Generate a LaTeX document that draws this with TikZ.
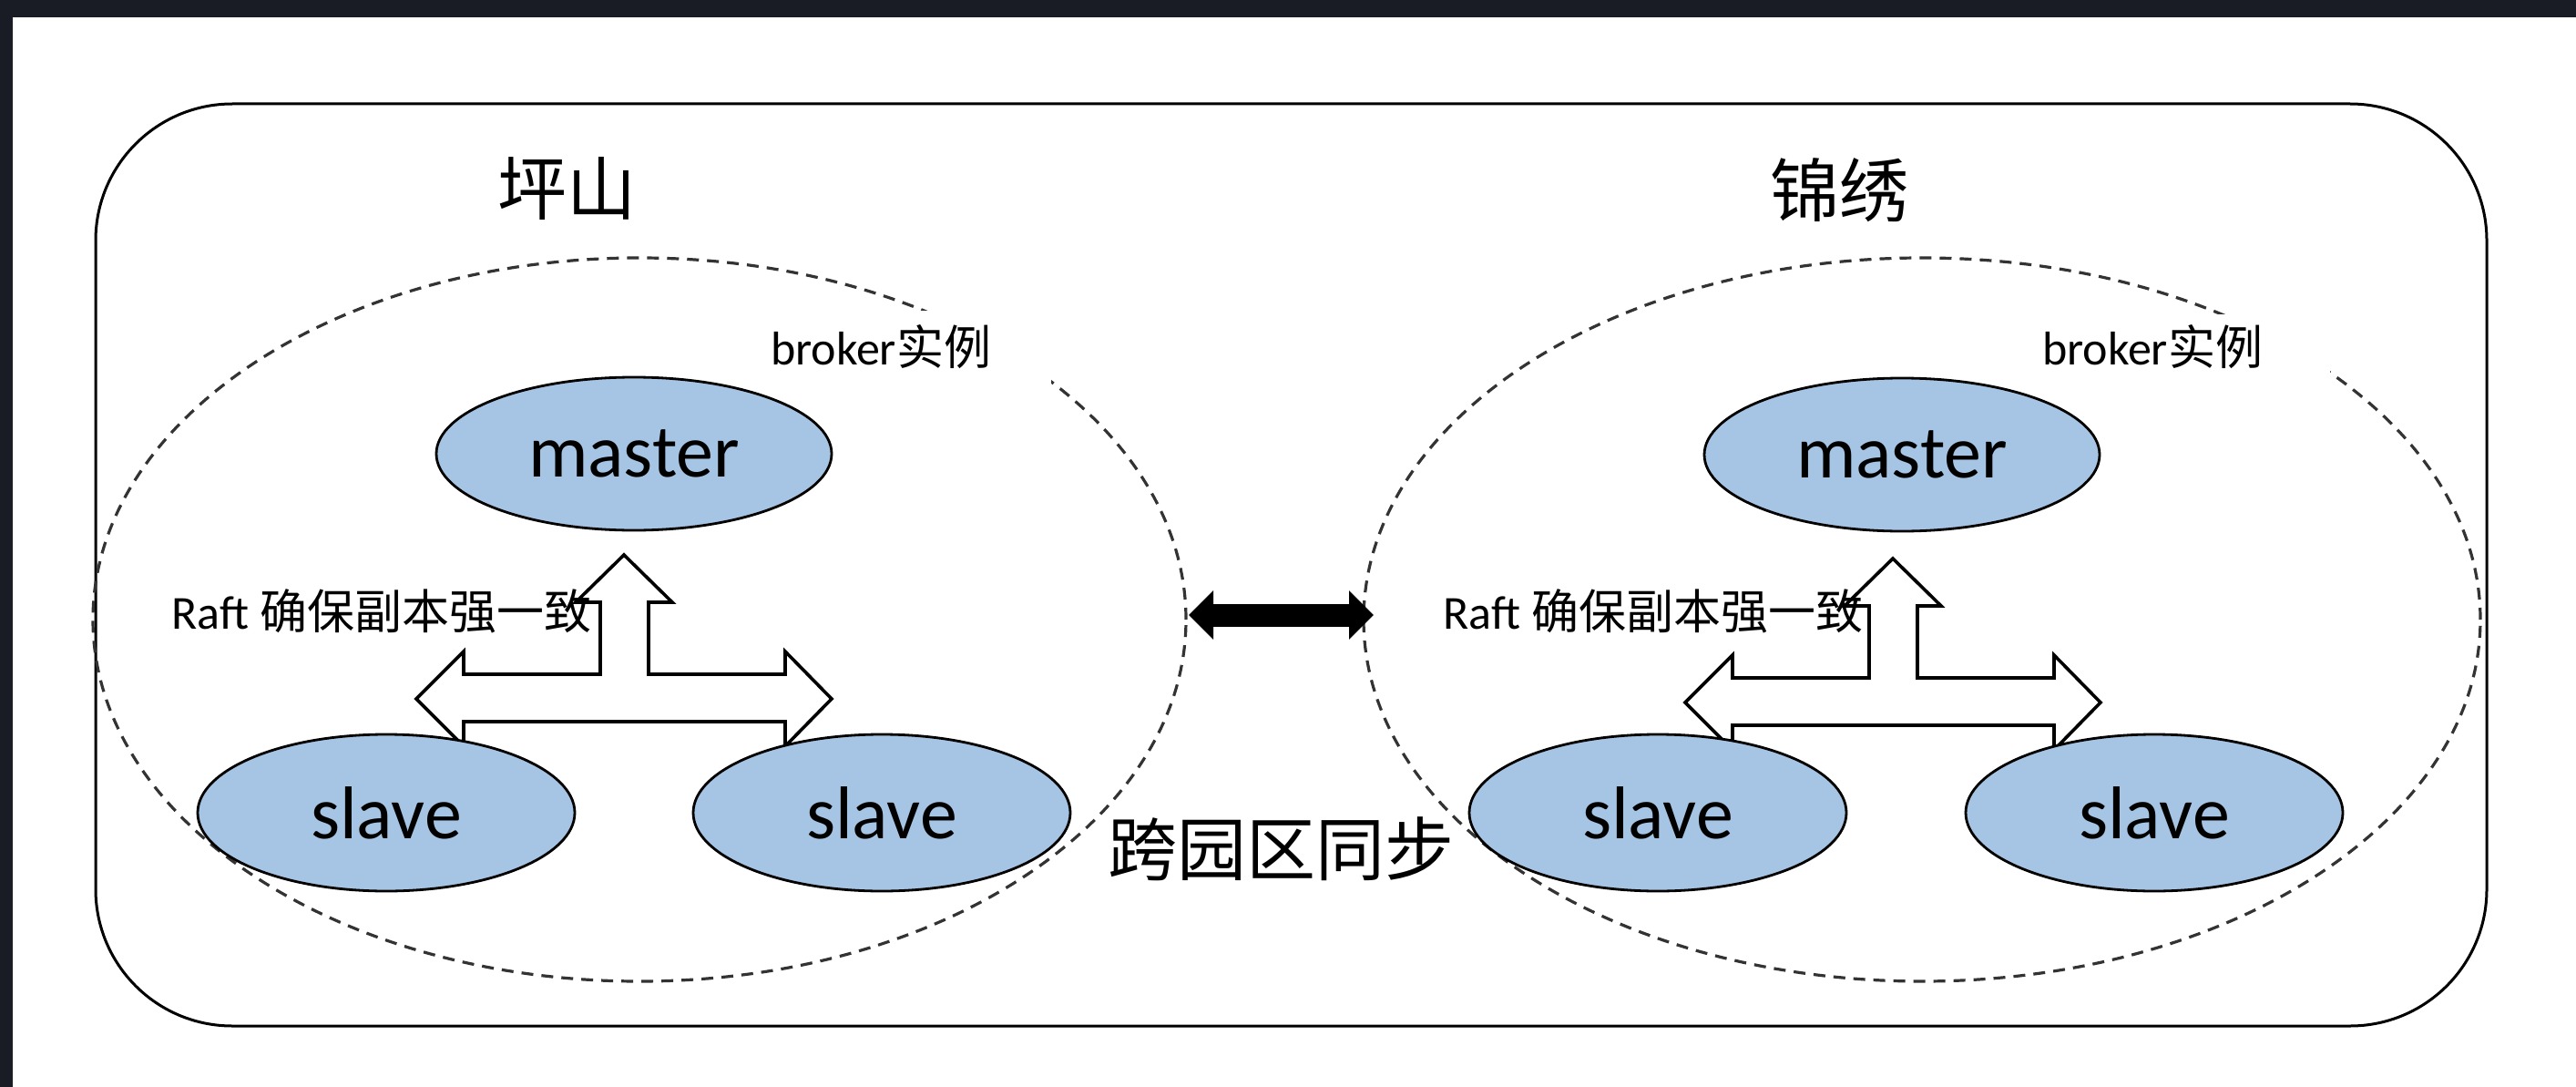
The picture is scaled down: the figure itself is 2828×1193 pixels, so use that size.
\documentclass[tikz,border=0pt]{standalone}
\usepackage{fontspec}
\setmainfont{Carlito}
\newfontfamily\cjk{Noto Sans CJK SC}
\usetikzlibrary{shapes.geometric,arrows.meta}
\definecolor{frameDark}{RGB}{25,28,36}
\definecolor{nodeBlue}{RGB}{166,196,228}
\begin{document}
\begin{tikzpicture}[x=0.5pt,y=-0.5pt,
  rep/.style={ellipse, draw=black, line width=1.4pt, fill=nodeBlue, inner sep=0pt, font=\fontsize{41}{45}\selectfont},
  masterbox/.style={rep, minimum width=217pt, minimum height=84pt},
  slavebox/.style={rep, minimum width=207pt, minimum height=86pt},
  zone/.style={ellipse, draw=black!80, line width=1.6pt, dash pattern=on 6.5pt off 4.5pt, inner sep=0pt, minimum height=397pt},
  bigtext/.style={font=\cjk\fontsize{38}{42}\selectfont, inner sep=0pt},
  smalltext/.style={font=\fontsize{26}{30}\selectfont, inner sep=0pt},
  blockarrow/.style={draw=black, fill=white, line width=1.8pt, line join=miter},
  linkarrow/.style={line width=12.5pt, {Triangle[length=13.5pt,width=26pt]}-{Triangle[length=13.5pt,width=26pt]}}
]
\useasboundingbox (0,0) rectangle (2828,1193);
\fill[frameDark] (0,0) rectangle (2828,1193);
\fill[white] (14,19) rectangle (2828,1193);

% outer frame
\draw[line width=1.5pt, rounded corners=75pt] (105,114) rectangle (2730,1126);

% broker zones
\node[zone, minimum width=600pt] (bkL) at (702,680) {};
\node[zone, minimum width=613pt] (bkR) at (2110,680) {};

% broker labels (white background breaks the dashed outline)
\node[smalltext, fill=white, minimum width=187pt, minimum height=40pt] (bkLlabel) at (967,381) {broker{\cjk 实例}};
\node[smalltext, fill=white, minimum width=195pt, minimum height=36pt] (bkRlabel) at (2363,381) {broker{\cjk 实例}};

% site titles
\node[bigtext] (siteL) at (622,207) {坪山};
\node[bigtext] (siteR) at (2019,209) {锦绣};

% block arrows
\begin{scope}
\draw[blockarrow] (685,609) -- (738,661) -- (712,661) -- (712,740) -- (862,740) -- (862,715) -- (913,767) -- (862,819) -- (862,792) -- (509,792) -- (509,819) -- (457,767) -- (509,715) -- (509,740) -- (659,740) -- (659,661) -- (632,661) -- cycle;
\end{scope}
\begin{scope}[shift={(1393,4)}]
\draw[blockarrow] (685,609) -- (738,661) -- (712,661) -- (712,740) -- (862,740) -- (862,715) -- (913,767) -- (862,819) -- (862,792) -- (509,792) -- (509,819) -- (457,767) -- (509,715) -- (509,740) -- (659,740) -- (659,661) -- (632,661) -- cycle;
\end{scope}

% raft labels
\node[smalltext, anchor=west] (raftL) at (188,671) {Raft {\cjk 确保副本强一致}};
\node[smalltext, anchor=west] (raftR) at (1584,671) {Raft {\cjk 确保副本强一致}};

% replicas
\node[masterbox] (mL) at (696,498) {master};
\node[slavebox] (s1L) at (424,892) {slave};
\node[slavebox] (s2L) at (968,892) {slave};
\node[masterbox] (mR) at (2088,499) {master};
\node[slavebox] (s1R) at (1820,892) {slave};
\node[slavebox] (s2R) at (2365,892) {slave};

% cross-site sync
\coordinate (linkL) at (1305,675);
\coordinate (linkR) at (1508,675);
\draw[linkarrow] (linkL) -- (linkR);
\node[bigtext] (sync) at (1406,932) {跨园区同步};
\end{tikzpicture}
\end{document}
